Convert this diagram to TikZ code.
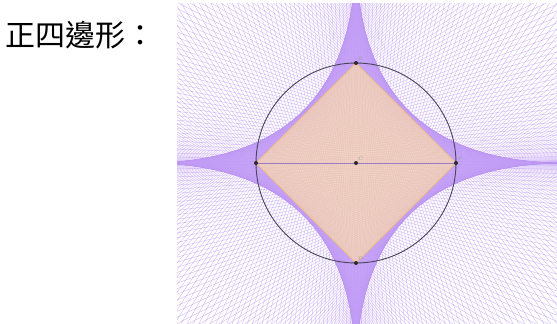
\documentclass[tikz,border=0pt]{standalone}
\usepackage{fontspec}
\newfontfamily\cjkfont{Noto Sans CJK TC}
\usetikzlibrary{calc}
\definecolor{envline}{HTML}{B48CF0}
\definecolor{bandfill}{HTML}{C29CF6}
\definecolor{sqfill}{HTML}{F2CDB2}
\definecolor{sqedge}{HTML}{EEBC88}
\definecolor{circedge}{HTML}{4A4458}
\definecolor{diamline}{HTML}{9A7CC8}
\definecolor{ptdark}{HTML}{2A2A2A}
\definecolor{lblgray}{HTML}{A0A0A0}

\begin{document}
\begin{tikzpicture}[
    x=1pt, y=-1pt,
    envelope/.style={envline, line width=0.45pt, opacity=0.55},
    band/.style={fill=bandfill, fill opacity=0.8, even odd rule},
    sqbox/.style={draw=sqedge, line width=1pt, fill=sqfill, fill opacity=0.8},
    circ/.style={draw=circedge, line width=0.9pt},
    diam/.style={diamline, line width=0.6pt},
    pt/.style={circle, fill=ptdark, inner sep=0pt, minimum size=4pt},
    vlabel/.style={font=\fontsize{5}{5}\selectfont, text=lblgray, inner sep=0.5pt},
]
\useasboundingbox (0,0) rectangle (557,324);

%% ============ TITLE ============
\node[font=\cjkfont\fontsize{30}{30}\selectfont, anchor=west, inner sep=0pt]
    (title) at (5,35) {正四邊形：};

%% ============ GEOMETRY ============
\pgfmathsetmacro{\R}{100}
\pgfmathsetmacro{\kk}{2.1}
\coordinate (O) at (356,163);
\coordinate (vtop)   at ($(O)+(0,-\R)$);
\coordinate (vright) at ($(O)+(\R,0)$);
\coordinate (vbot)   at ($(O)+(0,\R)$);
\coordinate (vleft)  at ($(O)+(-\R,0)$);

%% ============ LINE FAMILY + ENVELOPE BAND ============
% each line: point on the square, ends on the two axes
\begin{scope}
    \clip (177,3) rectangle (557,324);
    \foreach \sx/\sy in {1/1,-1/1,-1/-1,1/-1}{
        \foreach \i in {0,...,99}{
            \pgfmathsetmacro{\ax}{\kk*(\i+0.5)/100*\R*\sx}
            \pgfmathsetmacro{\by}{\kk*(1-(\i+0.5)/100)*\R*\sy}
            \coordinate (ea) at ($(O)+(\ax,0)$);
            \coordinate (eb) at ($(O)+(0,\by)$);
            \draw[envelope] ($(ea)!-4!(eb)$) -- ($(ea)!4!(eb)$);
        }
    }
    % dense band between the square and the envelope
    \begin{scope}[shift={(O)}]
        \fill[band] plot[domain=0:360, samples=721, variable=\p]
            ({\kk*\R*cos(\p)*cos(\p)*cos(\p)*abs(cos(\p))},
             {\kk*\R*sin(\p)*sin(\p)*sin(\p)*abs(sin(\p))}) -- cycle
            (vtop) -- (vright) -- (vbot) -- (vleft) -- cycle;
    \end{scope}
\end{scope}

%% ============ SQUARE, CIRCLE ============
\draw[sqbox] (vtop) -- (vright) -- (vbot) -- (vleft) -- cycle;
\draw[diam] (vleft) -- (vright);
\draw[circ] (O) circle (\R);

%% ============ POINTS ============
\node[pt] (ptop)   at (vtop) {};
\node[pt] (pright) at (vright) {};
\node[pt] (pbot)   at (vbot) {};
\node[pt] (pleft)  at (vleft) {};
\node[pt] (pcen)   at (O) {};

\node[vlabel, anchor=south west] at (ptop.north east) {E};
\node[vlabel, anchor=south west] at (pright.north east) {F};
\node[vlabel, anchor=south west] at (pbot.north east) {D};
\node[vlabel, anchor=south west] at (pcen.north east) {C};

\end{tikzpicture}
\end{document}
